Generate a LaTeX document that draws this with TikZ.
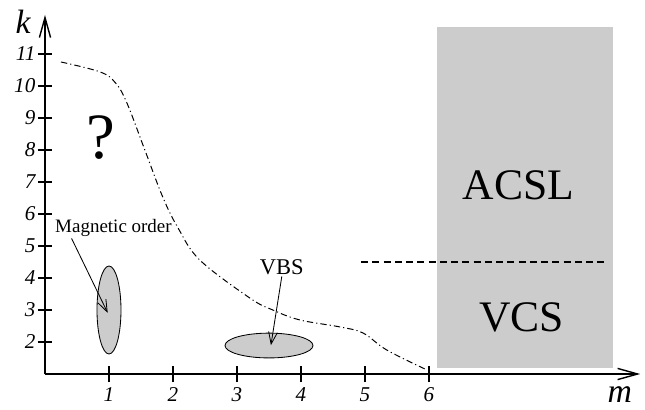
\documentclass[tikz,border=0pt]{standalone}
\usepackage{fontspec}
\setmainfont{Liberation Serif}
\usetikzlibrary{arrows.meta}

\tikzset{
  axis/.style={line width=1pt, -{Straight Barb[length=5mm,width=2.8mm,line width=1pt]}},
  ticklabel/.style={font=\fontsize{15}{15}\selectfont\itshape, inner sep=1pt},
  phase/.style={fill=black!20, draw=black, line width=0.6pt},
  pointer/.style={line width=0.6pt, -{Straight Barb[length=3mm,width=2.2mm,line width=0.6pt]}},
  regionlabel/.style={font=\fontsize{31}{31}\selectfont},
  axislabel/.style={font=\fontsize{24}{24}\selectfont\itshape, inner sep=1pt}
}

\begin{document}
\begin{tikzpicture}[x=1.6cm, y=0.8cm]
\useasboundingbox (-0.703,-0.094) rectangle (9.375,12.6875);

\fill[black!20] (6.125,1.19) rectangle (8.875,11.84);

\draw[axis] (0,1) -- (9.3,1);
\draw[axis] (0,1) -- (0,12.22);

\foreach \m in {1,...,6} {
	\draw[line width=0.8pt] (\m,1) ++(0,-0.2cm) -- ++(0,0.4cm);
	\node[ticklabel, anchor=north] (mtick\m) at ([yshift=-0.3cm]\m,1) {\m};
}
\foreach \k in {2,...,11} {
	\draw[line width=0.8pt] (0,\k) ++(-0.18cm,0) -- ++(0.36cm,0);
	\node[ticklabel, anchor=east] (ktick\k) at ([xshift=-0.2cm]0,\k) {\k};
}

\node[axislabel] (klabel) at (-0.34,12.0) {k};
\node[axislabel, anchor=base] (mlabel) at (8.98,0.1) {m};

\draw[line width=0.7pt, dash pattern=on 4.5pt off 2.2pt on 0.8pt off 2.2pt] plot[smooth, tension=0.6] coordinates {
	(0.25,10.75) (0.86,10.44) (1.1,10.1) (1.28,9.47) (1.56,8.0) (1.84,6.53)
	(2.08,5.56) (2.42,4.56) (3.2,3.375) (3.56,3.0) (3.98,2.69) (4.61,2.47)
	(4.97,2.28) (5.34,1.75) (5.97,1.125)};

\node[font=\fontsize{46}{46}\selectfont] (unknown) at (0.88,8.4) {?};

\draw[phase] (1,3.0) ellipse (0.3cm and 1.1cm);
\draw[phase] (3.5,1.89) ellipse (1.1cm and 0.31cm);

\node[font=\fontsize{13.5}{13.5}\selectfont, inner sep=1pt] (mag) at (1.07,5.56) {Magnetic order};
\node[font=\fontsize{16}{16}\selectfont, inner sep=1pt] (vbs) at (3.7,4.34) {VBS};
\coordinate (magtip) at (0.98,2.91);
\coordinate (vbstip) at (3.53,1.9);
\draw[pointer] ([xshift=0.45cm]mag.south west) -- (magtip);
\draw[pointer] (vbs.south) -- (vbstip);

\draw[line width=2pt, dash pattern=on 5pt off 3pt] (4.94,4.5) -- (8.75,4.5);

\node[regionlabel] (acsl) at (7.4,6.9) {ACSL};
\node[regionlabel] (vcs) at (7.45,2.78) {VCS};

\end{tikzpicture}
\end{document}
